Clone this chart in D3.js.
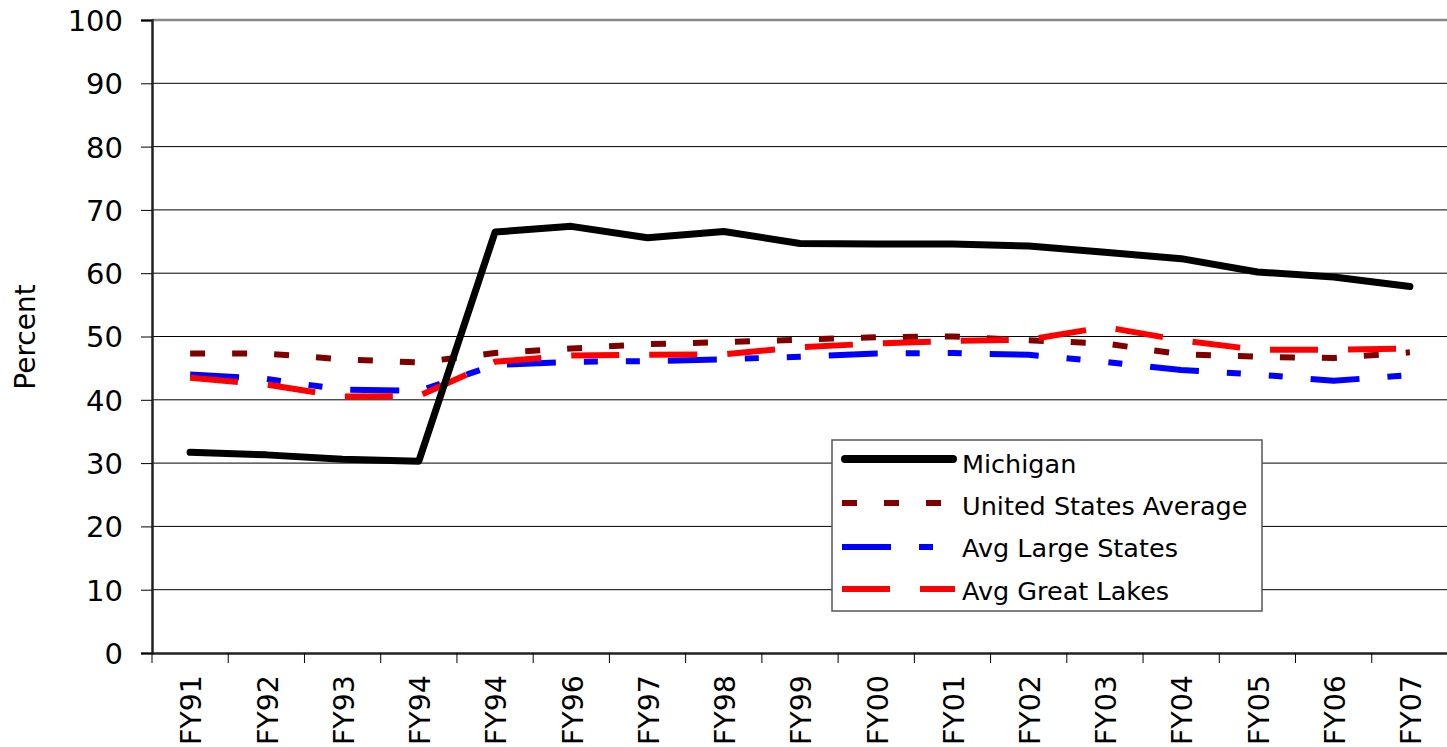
<!DOCTYPE html>
<html>
<head>
<meta charset="utf-8">
<script src="https://cdn.jsdelivr.net/npm/d3@7/dist/d3.min.js"></script>
<style>
  html, body { margin: 0; padding: 0; background: #fff; }
  svg { display: block; font-family: "DejaVu Sans", Verdana, sans-serif; }
</style>
</head>
<body>
<svg id="chart" width="1447" height="747"></svg>
<script>
const categories = ["FY91","FY92","FY93","FY94","FY94","FY96","FY97","FY98","FY99","FY00","FY01","FY02","FY03","FY04","FY05","FY06","FY07"];
const michigan   = [31.7, 31.3, 30.6, 30.3, 66.5, 67.4, 65.6, 66.6, 64.7, 64.6, 64.6, 64.3, 63.3, 62.3, 60.2, 59.4, 57.9];
const usAverage  = [47.3, 47.3, 46.4, 45.9, 47.4, 48.1, 48.8, 49.1, 49.5, 49.9, 50.0, 49.4, 48.9, 47.2, 46.8, 46.6, 47.5];
const largeStates= [44.0, 43.3, 41.6, 41.4, 45.5, 46.0, 46.1, 46.4, 46.8, 47.3, 47.4, 47.1, 46.0, 44.7, 44.0, 43.0, 43.9];
const greatLakes = [43.5, 42.4, 40.5, 40.6, 46.0, 47.0, 47.1, 47.2, 48.3, 48.9, 49.3, 49.5, 51.5, 49.4, 47.9, 47.9, 48.1];
const yTicks = [0,10,20,30,40,50,60,70,80,90,100];
const seriesNames = ["Michigan","United States Average","Avg Large States","Avg Great Lakes"];

const series = [
  {name: seriesNames[0], values: michigan,    color: "#000000", width: 7, dash: null, cap: "round"},
  {name: seriesNames[1], values: usAverage,   color: "#800000", width: 6, dash: "15,27", cap: "butt"},
  {name: seriesNames[2], values: largeStates, color: "#0000ff", width: 6, dash: "49,28,14,28,14,28", cap: "butt"},
  {name: seriesNames[3], values: greatLakes,  color: "#ff0000", width: 6, dash: "48,30", cap: "butt"}
];

const svg = d3.select("#chart");
const idx = categories.map((d,i) => i);
const x = d3.scaleBand().domain(idx).range([152, 1448]).padding(0);
const y = d3.scaleLinear().domain([0,100]).range([653, 20]);
const cx = i => x(i) + x.bandwidth()/2;

// gridlines
svg.append("g").selectAll("line").data(yTicks.filter(t => t > 0)).join("line")
  .attr("x1", 152).attr("x2", 1448)
  .attr("y1", d => y(d)).attr("y2", d => y(d))
  .attr("stroke", d => d === 100 ? "#888" : "#000")
  .attr("stroke-width", d => d === 100 ? 2.5 : 1);

// y axis
const yAxis = d3.axisLeft(y).tickValues(yTicks).tickSize(11).tickPadding(18);
const gy = svg.append("g").attr("transform", "translate(152,0)").call(yAxis);
gy.select(".domain").attr("stroke", "#222").attr("stroke-width", 2.5);
gy.selectAll(".tick line").attr("stroke", "#000").attr("stroke-width", 1);
gy.selectAll(".tick text").attr("font-size", 29).attr("fill", "#000")
  .attr("font-family", "DejaVu Sans, Verdana, sans-serif").attr("dy", "0.36em");

// x axis
const xAxis = d3.axisBottom(x).tickSize(0).tickFormat(i => categories[i]);
const gx = svg.append("g").attr("transform", "translate(0,653)").call(xAxis);
gx.select(".domain").attr("stroke", "#222").attr("stroke-width", 2.5);
gx.selectAll(".tick text")
  .attr("font-size", 28.5).attr("fill", "#000")
  .attr("font-family", "DejaVu Sans, Verdana, sans-serif")
  .attr("text-anchor", "end")
  .attr("transform", "translate(1,22) rotate(-90)")
  .attr("x", 0).attr("y", 0).attr("dy", "0.36em");
// boundary ticks
const bounds = idx.map(i => x(i)).concat([x.range()[1]]);
gx.append("g").selectAll("line").data(bounds).join("line")
  .attr("x1", d => d).attr("x2", d => d).attr("y1", 0).attr("y2", 10)
  .attr("stroke", "#000").attr("stroke-width", 1);

// y title
svg.append("text")
  .attr("transform", "translate(25,337) rotate(-90)")
  .attr("text-anchor", "middle").attr("dy", "0.36em")
  .attr("font-size", 28).attr("fill", "#000")
  .text("Percent");

// lines
const line = d3.line().x((d,i) => cx(i)).y(d => y(d));
const draw = [series[1], series[2], series[3], series[0]];
svg.append("g").selectAll("path").data(draw).join("path")
  .attr("d", d => line(d.values))
  .attr("fill", "none")
  .attr("stroke", d => d.color)
  .attr("stroke-width", d => d.width)
  .attr("stroke-linecap", d => d.cap)
  .attr("stroke-linejoin", "round")
  .attr("stroke-dasharray", d => d.dash);

// legend
const lg = svg.append("g");
lg.append("rect").attr("x", 832).attr("y", 440).attr("width", 430).attr("height", 171)
  .attr("fill", "#fff").attr("stroke", "#555").attr("stroke-width", 1.5);
const ly = [459, 503, 547, 589];
const ty = [464, 506, 548, 591];
const items = lg.selectAll("g.item").data(series).join("g").attr("class","item");
items.append("line")
  .attr("x1", d => d.cap === "round" ? 845 : 842)
  .attr("x2", d => d.cap === "round" ? 953 : 955)
  .attr("y1", (d,i) => ly[i]).attr("y2", (d,i) => ly[i])
  .attr("stroke", d => d.color)
  .attr("stroke-width", d => d.cap === "round" ? 8 : d.width)
  .attr("stroke-linecap", d => d.cap)
  .attr("stroke-dasharray", d => d.dash);
items.append("text")
  .attr("x", 962).attr("y", (d,i) => ty[i])
  .attr("dy", "0.36em")
  .attr("font-size", 25.5).attr("fill", "#000")
  .text(d => d.name);
</script>
</body>
</html>
